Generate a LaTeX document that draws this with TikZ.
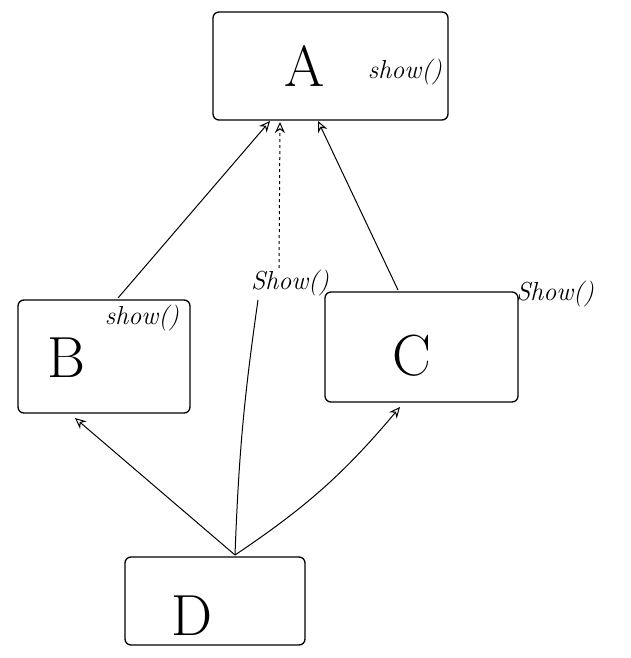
\documentclass[tikz,border=0pt]{standalone}
\usetikzlibrary{arrows.meta}
\begin{document}
\begin{tikzpicture}[x=1pt,y=-1pt,
  cls/.style={draw, line width=1.3pt, rounded corners=6pt},
  lbl/.style={font=\fontsize{58}{58}\selectfont, inner sep=0pt},
  mth/.style={font=\fontsize{26}{26}\selectfont\itshape, inner sep=1pt},
  conn/.style={line width=1pt, -{Stealth[length=11pt,width=10pt,open]}}]
\useasboundingbox (0,0) rectangle (631,658);
% boxes
\draw[cls] (213,12) rectangle (448,120);
\node[lbl] (A) at (305,66) {A};
\node[mth] (Ashow) at (405,72) {show()};

\draw[cls] (18,300) rectangle (190,413);
\node[lbl] (B) at (66,358) {B};
\node[mth] (Bshow) at (142,318) {show()};

\draw[cls] (325,292) rectangle (518,402);
\node[lbl] (C) at (412,356) {C};
\node[mth] (Cshow) at (555,294) {Show()};

\draw[cls] (125,557) rectangle (305,645);
\node[lbl] (D) at (192,616) {D};
\node[mth] (Dshow) at (290,283) {Show()};

% anchors
\coordinate (Bt) at (118,298);
\coordinate (At1) at (270,121);
\coordinate (Ct) at (398,290);
\coordinate (At2) at (318,121);
\coordinate (Dt) at (235,555);
\coordinate (Bb) at (75,418);
\coordinate (Cb) at (400,407);
\coordinate (At3) at (280,122);
\coordinate (Dlab) at (258,300);
\coordinate (Dlabt) at (279,268);

% connectors
\draw[conn] (Bt) -- (At1);
\draw[conn] (Ct) -- (At2);
\draw[conn] (Dt) -- (Bb);
\draw[conn] (Dt) to[bend right=8] (Cb);
\draw[line width=1pt] (Dt) to[bend left=3] (Dlab);
\draw[conn, dashed] (Dlabt) -- (At3);
\end{tikzpicture}
\end{document}
